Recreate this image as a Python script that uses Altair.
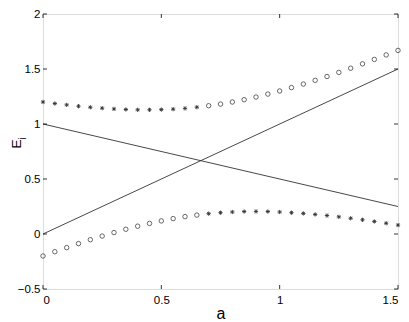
import altair as alt
import pandas as pd

# Data
a_vals = [0.0, 0.05, 0.1, 0.15, 0.2, 0.25, 0.3, 0.35, 0.4, 0.45, 0.5, 0.55, 0.6, 0.65,
          0.7, 0.75, 0.8, 0.85, 0.9, 0.95, 1.0, 1.05, 1.1, 1.15, 1.2, 1.25, 1.3, 1.35,
          1.4, 1.45, 1.5]
upper = [1.20, 1.186, 1.174, 1.162, 1.152, 1.144, 1.137, 1.132, 1.129, 1.129, 1.131,
         1.135, 1.142, 1.153, 1.166, 1.181, 1.20, 1.221, 1.245, 1.272, 1.30, 1.331,
         1.363, 1.397, 1.432, 1.469, 1.507, 1.547, 1.587, 1.628, 1.669]
lower = [-0.20, -0.161, -0.124, -0.087, -0.052, -0.019, 0.013, 0.043, 0.071, 0.096,
         0.119, 0.140, 0.158, 0.172, 0.185, 0.194, 0.20, 0.204, 0.205, 0.204, 0.20,
         0.194, 0.187, 0.178, 0.168, 0.156, 0.143, 0.129, 0.114, 0.098, 0.081]
split_a = 0.675  # stars before / circles after on upper branch (reverse on lower)

line_ids = ["E1", "E1", "E2", "E2"]
line_x = [0.0, 1.5, 0.0, 1.5]
line_y = [0.0, 1.5, 1.0, 0.25]

x_ticks = [0, 0.5, 1, 1.5]
y_ticks = [-0.5, 0, 0.5, 1, 1.5, 2]
x_title = "a"
y_title_main = "E"
y_title_sub = "i"

W, H = 355, 275
FONT = "Liberation Sans"

rows = []
for a, u, l in zip(a_vals, upper, lower):
    rows.append({"a": a, "E": u, "m": "star" if a < split_a else "circle"})
    rows.append({"a": a, "E": l, "m": "circle" if a < split_a else "star"})
pts = pd.DataFrame(rows)

lines_df = pd.DataFrame({"id": line_ids, "a": line_x, "E": line_y})
xt = pd.DataFrame({"t": x_ticks})
yt = pd.DataFrame({"t": y_ticks})

xs = alt.Scale(domain=[0, 1.5], nice=False, zero=False)
ys = alt.Scale(domain=[-0.5, 2], nice=False, zero=False)

X = alt.X("a:Q", scale=xs, axis=alt.Axis(values=x_ticks, format="~g", title=x_title,
                                          grid=False, tickSize=0, domain=False,
                                          labelPadding=5, titleY=29,
                                          titleBaseline="alphabetic",
                                          labelFontSize=11.5, titleFontSize=16,
                                          titleFontWeight="normal"))
Y = alt.Y("E:Q", scale=ys, axis=alt.Axis(values=y_ticks, format="~g", title=None,
                                          grid=False, tickSize=0, domain=False,
                                          labelPadding=3, labelFontSize=11.5))

lines = alt.Chart(lines_df).mark_line(color="#333", strokeWidth=0.9).encode(
    x=X, y=Y, detail="id:N")

circles = alt.Chart(pts).transform_filter(alt.datum.m == "circle").mark_point(
    shape="circle", size=20, filled=False, color="#444", strokeWidth=0.8, opacity=1
).encode(x="a:Q", y="E:Q")

star_path = "M-1,0L1,0M0,-1L0,1M-0.7,-0.7L0.7,0.7M-0.7,0.7L0.7,-0.7"
stars = alt.Chart(pts).transform_filter(alt.datum.m == "star").mark_point(
    shape=star_path, size=18, filled=False, color="#333", strokeWidth=0.9, opacity=1
).encode(x="a:Q", y="E:Q")

TL = 4
xb = alt.Chart(xt).mark_rule(color="black", strokeWidth=0.8).encode(
    x=alt.X("t:Q", scale=xs), y=alt.value(H), y2=alt.value(H - TL))
xtop = alt.Chart(xt).mark_rule(color="black", strokeWidth=0.8).encode(
    x=alt.X("t:Q", scale=xs), y=alt.value(0), y2=alt.value(TL))
yl = alt.Chart(yt).mark_rule(color="black", strokeWidth=0.8).encode(
    y=alt.Y("t:Q", scale=ys), x=alt.value(0), x2=alt.value(TL))
yr = alt.Chart(yt).mark_rule(color="black", strokeWidth=0.8).encode(
    y=alt.Y("t:Q", scale=ys), x=alt.value(W), x2=alt.value(W - TL))

ytitle = alt.Chart(pd.DataFrame({"t": [y_title_main]})).mark_text(
    angle=270, align="left", baseline="alphabetic", fontSize=13.5, font=FONT,
    color="black"
).encode(text="t:N", x=alt.value(-22), y=alt.value(134.5))
ysub = alt.Chart(pd.DataFrame({"t": [y_title_sub]})).mark_text(
    angle=270, align="left", baseline="alphabetic", fontSize=10, font=FONT,
    color="black"
).encode(text="t:N", x=alt.value(-17.5), y=alt.value(125.5))

chart = alt.layer(lines, circles, stars, xb, xtop, yl, yr, ytitle, ysub).properties(
    width=W, height=H,
    autosize=alt.AutoSizeParams(type="none"),
    padding={"left": 35, "top": 6, "right": 3, "bottom": 33},
).configure_view(stroke="black", strokeWidth=1).configure_axis(
    labelFont=FONT, titleFont=FONT, labelColor="black", titleColor="black"
).configure(background="white")

chart.save("out.html", embed_options={"renderer": "svg", "actions": False})
